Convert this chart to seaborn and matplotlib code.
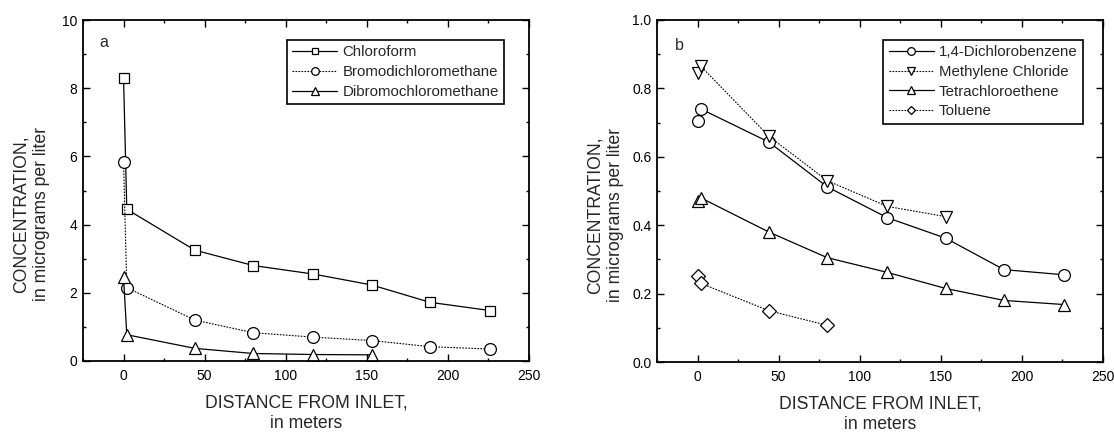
import matplotlib
matplotlib.use("Agg")
import matplotlib.pyplot as plt
import seaborn as sns
from matplotlib.ticker import MultipleLocator

# ---- Data ----
dist_full = [0, 2, 44, 80, 117, 153, 189, 226]
dist_six = [0, 2, 44, 80, 117, 153]
dist_four = [0, 2, 44, 80]

chloroform = [8.3, 4.45, 3.25, 2.8, 2.55, 2.23, 1.72, 1.48]
bromodichloromethane = [5.85, 2.15, 1.2, 0.83, 0.7, 0.6, 0.42, 0.35]
dibromochloromethane = [2.45, 0.77, 0.37, 0.22, 0.19, 0.18]

dichlorobenzene = [0.705, 0.74, 0.643, 0.512, 0.422, 0.362, 0.27, 0.255]
methylene_chloride = [0.845, 0.865, 0.66, 0.53, 0.455, 0.425]
tetrachloroethene = [0.47, 0.48, 0.38, 0.305, 0.262, 0.215, 0.18, 0.168]
toluene = [0.252, 0.23, 0.15, 0.107]

labels_a = ["Chloroform", "Bromodichloromethane", "Dibromochloromethane"]
labels_b = ["1,4-Dichlorobenzene", "Methylene Chloride", "Tetrachloroethene", "Toluene"]

sns.set_theme(style="ticks")
plt.rcParams["font.family"] = ["Liberation Sans", "DejaVu Sans"]
plt.rcParams.update({
    "axes.linewidth": 1.3,
    "axes.edgecolor": "black",
    "xtick.direction": "in", "ytick.direction": "in",
    "xtick.top": True, "ytick.right": True,
    "xtick.major.size": 5, "ytick.major.size": 5,
    "xtick.minor.size": 2.5, "ytick.minor.size": 2.5,
    "xtick.major.width": 1.0, "ytick.major.width": 1.0,
    "xtick.minor.width": 1.0, "ytick.minor.width": 1.0,
    "xtick.color": "black", "ytick.color": "black",
    "xtick.labelsize": 10, "ytick.labelsize": 10,
    "xtick.major.pad": 6, "ytick.major.pad": 4,
})

fig = plt.figure(figsize=(11.14, 4.33), dpi=100)
axA = fig.add_axes([83 / 1114, 72 / 433, 446 / 1114, 341 / 433])
axB = fig.add_axes([657 / 1114, 71 / 433, 446 / 1114, 342 / 433])

SOLID = "-"
DOT = (0, (1.5, 1.2))

def draw(ax, x, y, marker, ls, ms, label):
    lw = 0.9 if ls == SOLID else 0.8
    sns.lineplot(x=x, y=y, ax=ax, sort=False, estimator=None, color="black",
                 linestyle=ls, linewidth=lw, marker=marker, markersize=ms,
                 markerfacecolor="white", markeredgecolor="black",
                 markeredgewidth=0.9, label=label)

draw(axA, dist_full, chloroform, "s", SOLID, 7.5, labels_a[0])
draw(axA, dist_full, bromodichloromethane, "o", DOT, 8.5, labels_a[1])
draw(axA, dist_six, dibromochloromethane, "^", SOLID, 9, labels_a[2])

draw(axB, dist_full, dichlorobenzene, "o", SOLID, 8.5, labels_b[0])
draw(axB, dist_six, methylene_chloride, "v", DOT, 9, labels_b[1])
draw(axB, dist_full, tetrachloroethene, "^", SOLID, 9, labels_b[2])
draw(axB, dist_four, toluene, "D", DOT, 7, labels_b[3])

for ax, ymax, ymaj, ymin, letter in [(axA, 10, 2, 1, "a"), (axB, 1.0, 0.2, 0.1, "b")]:
    ax.set_xlim(-25, 250)
    ax.set_ylim(0, ymax)
    ax.xaxis.set_major_locator(MultipleLocator(50))
    ax.xaxis.set_minor_locator(MultipleLocator(25))
    ax.yaxis.set_major_locator(MultipleLocator(ymaj))
    ax.yaxis.set_minor_locator(MultipleLocator(ymin))
    ax.tick_params(which="both", direction="in", top=True, right=True)
    for s in ax.spines.values():
        s.set_visible(True)
        s.set_linewidth(1.3)
        s.set_color("black")
    ax.set_xlabel("DISTANCE FROM INLET,\nin meters", fontsize=12.7, labelpad=8,
                  linespacing=1.25)
    ax.set_ylabel("CONCENTRATION,\nin micrograms per liter", fontsize=12.7,
                  linespacing=1.2)
    ax.yaxis.set_label_coords(-0.075, 0.43)
    ax.text(0.037 if letter == "a" else 0.04, 0.921 if letter == "a" else 0.912,
            letter, transform=ax.transAxes, fontsize=11.5, va="baseline", ha="left")
    ax.grid(False)

axB.yaxis.set_major_formatter(matplotlib.ticker.FormatStrFormatter("%.1f"))
axA.yaxis.set_major_formatter(matplotlib.ticker.FormatStrFormatter("%d"))

for ax, anchor in [(axA, (0.944, 0.941)), (axB, (0.955, 0.9415))]:
    leg = ax.legend(loc="upper right", bbox_to_anchor=anchor, borderaxespad=0,
                    fontsize=10.8, frameon=True, fancybox=False, framealpha=1,
                    edgecolor="black", handlelength=3.0, handletextpad=0.35,
                    labelspacing=0.38, borderpad=0.35, markerscale=0.65)
    leg.get_frame().set_linewidth(1.2)

fig.savefig("out.png", dpi=100)
